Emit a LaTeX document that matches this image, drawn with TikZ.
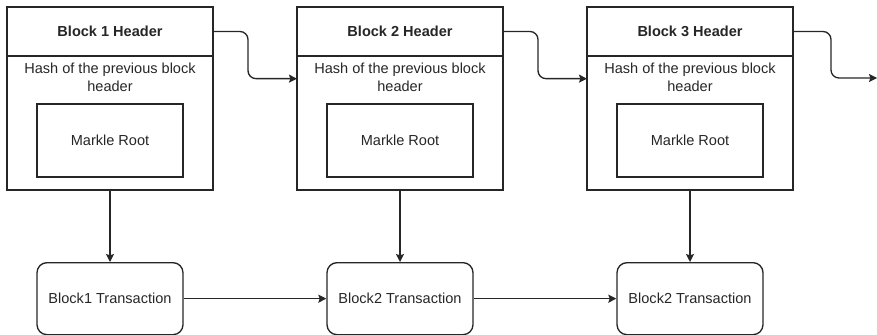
\documentclass[tikz,border=0pt]{standalone}
\usepackage{fontspec}
\setmainfont{Liberation Sans}
\usetikzlibrary{arrows.meta, positioning, calc}
\definecolor{inkgray}{RGB}{38,38,38}

\begin{document}
\begin{tikzpicture}[
  x=0.75pt, y=-0.75pt,
  every node/.style = {font=\fontsize{10.9}{13.2}\selectfont, text=inkgray},
  hdr/.style    = {rectangle, draw=inkgray, line width=1pt, outer sep=0pt,
                   minimum width=154.5pt, minimum height=36.75pt,
                   font=\fontsize{10.9}{13.2}\selectfont\bfseries},
  bodybox/.style= {rectangle, draw=inkgray, line width=1pt, outer sep=0pt,
                   minimum width=154.5pt, minimum height=100.5pt},
  hashtxt/.style= {anchor=north, align=center, inner sep=2pt},
  rootbox/.style= {rectangle, draw=inkgray, line width=1pt,
                   minimum width=109.5pt, minimum height=54.75pt},
  txbox/.style  = {rectangle, rounded corners=7.5pt, draw=inkgray, line width=1pt,
                   minimum width=109.5pt, minimum height=54pt},
  arr/.style    = {-{Stealth[length=6pt, width=6pt, inset=1pt]}, line width=1pt, draw=inkgray},
  link/.style   = {arr, rounded corners=6pt}
]
\useasboundingbox (0,0) rectangle (877,335);

% block headers and bodies
\node[hdr] (head1) at (110,31.5) {Block 1 Header};
\node[bodybox, below=0pt of head1] (body1) {};
\node[hashtxt] (hash1) at ([yshift=-3pt]body1.north) {Hash of the previous block\\header};
\node[rootbox] (root1) at ([yshift=-13pt]body1.center) {Markle Root};

\node[hdr] (head2) at (400,31.5) {Block 2 Header};
\node[bodybox, below=0pt of head2] (body2) {};
\node[hashtxt] (hash2) at ([yshift=-3pt]body2.north) {Hash of the previous block\\header};
\node[rootbox] (root2) at ([yshift=-13pt]body2.center) {Markle Root};

\node[hdr] (head3) at (690,31.5) {Block 3 Header};
\node[bodybox, below=0pt of head3] (body3) {};
\node[hashtxt] (hash3) at ([yshift=-3pt]body3.north) {Hash of the previous block\\header};
\node[rootbox] (root3) at ([yshift=-13pt]body3.center) {Markle Root};

% transactions
\node[txbox, below=54pt of body1] (tx1) {Block1 Transaction};
\node[txbox, below=54pt of body2] (tx2) {Block2 Transaction};
\node[txbox, below=54pt of body3] (tx3) {Block2 Transaction};

\coordinate (next) at (877,78);

\draw[link] (head1.east) -- ++(35,0) |- ([yshift=-17pt]body2.north west);
\draw[link] (head2.east) -- ++(35,0) |- ([yshift=-17pt]body3.north west);
\draw[link] (head3.east) -- ++(38,0) |- (next);

\draw[arr] (body1) -- (tx1);
\draw[arr] (body2) -- (tx2);
\draw[arr] (body3) -- (tx3);
\draw[arr] (tx1) -- (tx2);
\draw[arr] (tx2) -- (tx3);
\end{tikzpicture}
\end{document}
